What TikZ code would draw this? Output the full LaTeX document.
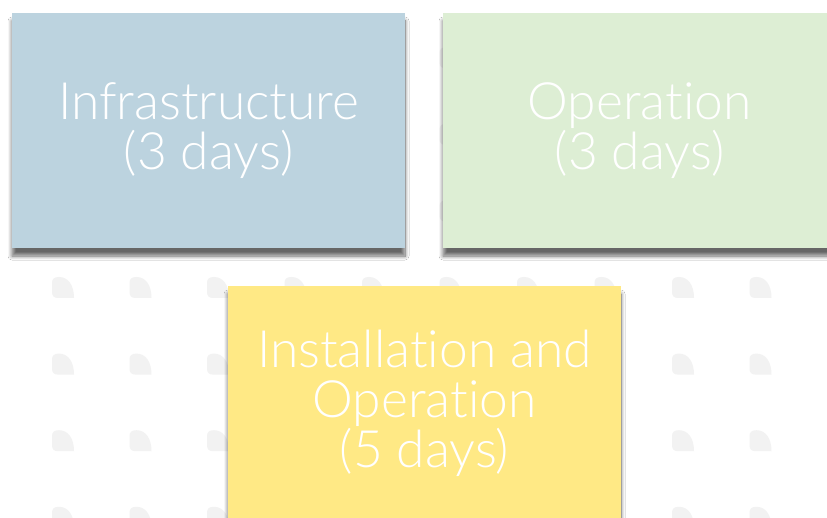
\documentclass[tikz,border=0pt]{standalone}
\usepackage{fontspec}
\setmainfont{Lato Light}[Ligatures=NoCommon]
\usepackage{tikz}
\usetikzlibrary{positioning}
\usetikzlibrary{shadows.blur}

\definecolor{infrablue}{HTML}{BCD3DF}
\definecolor{opgreen}{HTML}{DDEED4}
\definecolor{instyellow}{HTML}{FFE985}
\definecolor{leafgray}{HTML}{F2F2F2}

\begin{document}
\begin{tikzpicture}[x=1pt, y=-1pt,
		card/.style={rectangle, minimum width=393pt, minimum height=235pt, inner sep=0pt,
			align=center, text=white, font=\fontsize{51.5}{50}\selectfont,
			blur shadow={shadow xshift=0pt, shadow yshift=-8pt, shadow blur radius=4pt,
				shadow blur steps=10, shadow opacity=60}},
		leaf/.style={fill=leafgray, draw=none}]
				\useasboundingbox (0,0) rectangle (827,518);
				\clip (0,0) rectangle (827,518);
				\fill[white] (0,0) rectangle (827,518);
				
				% background leaves
				\foreach \i in {-1,...,10} {
					\foreach \j in {-3,...,3} {
						\fill[leaf, shift={({52+77.5*\i},{277+76.6*\j})}] (22,21) -- (6,21)
							.. controls (2,21) and (0,19) .. (0,15) -- (0,6)
							.. controls (0,2) and (2,0) .. (7,0)
							.. controls (16,0) and (22,8) .. (22,21) -- cycle;
					}
				}
				
				\node[card, fill=infrablue] (infra) at (208.5,130.5) {Infrastructure\\(3 days)};
				\node[card, fill=opgreen] (oper) at (639.5,130.5) {Operation\\(3 days)};
				\node[card, fill=instyellow] (install) at (424.5,403.5) {Installation and\\Operation\\(5 days)};
			\end{tikzpicture}
\end{document}
